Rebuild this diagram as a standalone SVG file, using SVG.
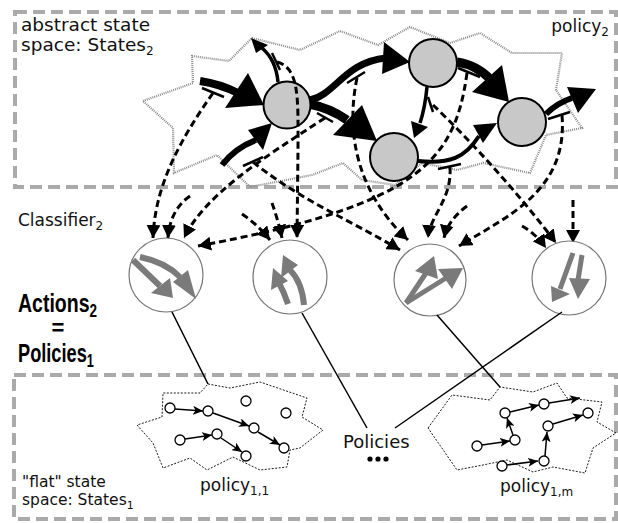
<svg xmlns="http://www.w3.org/2000/svg" width="618" height="523" viewBox="0 0 618 523">
  <defs>
    <style>
      .frame { fill: none; stroke: #aaaaaa; stroke-width: 4; stroke-dasharray: 12 6; }
      .cloud { fill: none; stroke: #8c8c8c; stroke-width: 2.2; stroke-dasharray: 1 1; }
      .cloud1 { fill: none; stroke: #000; stroke-width: 0.9; stroke-dasharray: 2 1.5; }
      .state { fill: #c8c8c8; stroke: #000; stroke-width: 2; }
      .thick { fill: none; stroke: #000; stroke-linecap: butt; }
      .head { fill: #000; stroke: none; }
      .tbar { stroke: #000; stroke-width: 2.5; fill: none; }
      .dash { fill: none; stroke: #000; stroke-width: 3; stroke-dasharray: 7 4; marker-end: url(#dh); }
      .cls { fill: #fff; stroke: #777; stroke-width: 1.2; }
      .gray { fill: none; stroke: #7a7a7a; }
      .ghead { fill: #7a7a7a; stroke: none; }
      .link { stroke: #000; stroke-width: 1.5; fill: none; }
      .s1 { fill: #fff; stroke: #000; stroke-width: 1.3; }
      .a1 { fill: none; stroke: #000; stroke-width: 1.5; marker-end: url(#sh); }
      .lbl { font-family: "DejaVu Sans", "Noto Sans", sans-serif; fill: #111; }
      .big { font-family: "Liberation Sans", Arial, sans-serif; font-weight: bold; fill: #000; }
    </style>
    <marker id="dh" markerUnits="userSpaceOnUse" markerWidth="14" markerHeight="14" refX="13" refY="7" orient="auto">
      <path d="M0,0 L13,7 L0,14 z" fill="#000"/>
    </marker>
    <marker id="sh" markerUnits="userSpaceOnUse" markerWidth="11" markerHeight="9" refX="10" refY="4.5" orient="auto">
      <path d="M0,0 L10,4.5 L0,9 L2.5,4.5 z" fill="#000"/>
    </marker>
  </defs>

  <!-- level 2: abstract state space -->
  <g id="abstract-space">
    <rect class="frame" x="15" y="12" width="601" height="175"/>
    <polygon class="cloud" points="143,101 193,83 192,56 229,61 252,38 300,50 340,31 378,45 410,27 450,43 480,33 512,53 562,53 556,90 582,128 546,135 530,173 483,163 457,170 422,163 395,185 362,180 343,163 312,175 250,187 217,155 174,173 173,128"/>
    <text class="lbl" font-size="18.5" x="21" y="31">abstract state</text>
    <text class="lbl" font-size="18.5" x="21" y="51">space: States<tspan font-size="12" dy="4">2</tspan></text>
    <text class="lbl" font-size="17" x="609" y="32" text-anchor="end">policy<tspan font-size="12" dy="4">2</tspan></text>
  </g>

  <!-- policy2 transitions -->
  <g id="policy2-arrows">
    <path class="thick" stroke-width="8" d="M200,81 Q220,84 238,93"/>
    <polygon class="head" points="225,108 248,73 264,105"/>
    <path class="thick" stroke-width="6" d="M222,165 Q235,148 256,140"/>
    <polygon class="head" points="248,130 272,123 263,150"/>
    <path class="thick" stroke-width="3.5" d="M278,82 Q276,60 262,48"/>
    <polygon class="head" points="251,38 256,53 268,45"/>
    <path class="thick" stroke-width="7" d="M310,100 C335,95 345,62 386,58"/>
    <polygon class="head" points="384,42 382,74 410,62"/>
    <path class="thick" stroke-width="9" d="M309,104 Q330,108 347,120"/>
    <polygon class="head" points="362,105 333,135 377,141"/>
    <path class="thick" stroke-width="3.5" d="M427,87 Q425,108 420,123"/>
    <polygon class="head" points="411,121 428,127 414,138"/>
    <path class="thick" stroke-width="9" d="M457,62 Q477,65 491,80"/>
    <polygon class="head" points="472,92 502,65 509,102"/>
    <path class="thick" stroke-width="4" d="M418,161 C450,164 465,158 479,136"/>
    <polygon class="head" points="473,125 483,143 497,123"/>
    <path class="thick" stroke-width="6" d="M546,114 Q557,103 572,98"/>
    <polygon class="head" points="567,87 578,113 596,89"/>
    <line class="tbar" x1="202" y1="88" x2="224" y2="97"/>
    <line class="tbar" x1="243" y1="166" x2="263" y2="157"/>
    <line class="tbar" x1="272" y1="53" x2="280" y2="70"/>
    <line class="tbar" x1="347" y1="83" x2="365" y2="72"/>
    <line class="tbar" x1="317" y1="113" x2="333" y2="122"/>
    <line class="tbar" x1="428" y1="97" x2="433" y2="112"/>
    <line class="tbar" x1="458" y1="68" x2="480" y2="77"/>
    <line class="tbar" x1="438" y1="169" x2="461" y2="164"/>
    <line class="tbar" x1="548" y1="119" x2="570" y2="112"/>
  </g>

  <!-- abstract states -->
  <g id="s2-a"><circle class="state" cx="287" cy="105" r="23.5"/></g>
  <g id="s2-b"><circle class="state" cx="433" cy="63" r="24"/></g>
  <g id="s2-c"><circle class="state" cx="394" cy="157" r="24"/></g>
  <g id="s2-d"><circle class="state" cx="522" cy="122" r="24"/></g>

  <!-- classifier mapping: transitions to actions -->
  <g id="classifier-links">
    <path class="dash" d="M213,93 C180,140 155,185 153,238"/>
    <path class="dash" d="M190,196 Q170,210 168,238"/>
    <path class="dash" d="M325,118 C260,160 205,195 184,238"/>
    <path class="dash" d="M467,73 C455,160 420,205 198,246"/>
    <path class="dash" d="M277,62 C300,68 298,100 298,150 L297,238"/>
    <path class="dash" d="M242,214 Q258,225 270,240"/>
    <path class="dash" d="M272,203 Q278,220 282,238"/>
    <path class="dash" d="M253,162 C300,200 350,220 400,250"/>
    <path class="dash" d="M357,78 C342,150 370,205 408,240"/>
    <path class="dash" d="M450,167 C452,200 430,215 428,238"/>
    <path class="dash" d="M467,206 Q448,220 444,238"/>
    <path class="dash" d="M562,115 C568,190 510,215 459,246"/>
    <path class="dash" d="M433,105 C470,140 520,195 556,243"/>
    <path class="dash" d="M522,226 Q536,234 546,248"/>
    <path class="dash" d="M573,200 L573,243"/>
  </g>

  <!-- side labels -->
  <g id="labels">
    <text class="lbl" font-size="17" x="18" y="226" fill="#222">Classifier<tspan font-size="12" dy="4">2</tspan></text>
    <text class="big" font-size="26" transform="translate(18,312) scale(0.75,1)">Actions<tspan font-size="18" dy="5">2</tspan></text>
    <text class="big" font-size="22" x="58" y="335" text-anchor="middle">=</text>
    <text class="big" font-size="26" transform="translate(18,362) scale(0.7,1)">Policies<tspan font-size="18" dy="5">1</tspan></text>
  </g>

  <!-- actions2 = policies1 -->
  <g id="action-1">
    <circle class="cls" cx="166" cy="275" r="37"/>
    <path class="gray" stroke-width="6" d="M133,260 L160,286"/>
    <polygon class="ghead" points="151,293 170,278 173,298"/>
    <path class="gray" stroke-width="6" d="M140,257 Q165,262 180,277"/>
    <polygon class="ghead" points="173,282 188,270 196,299"/>
  </g>
  <g id="action-2">
    <circle class="cls" cx="290" cy="277" r="37"/>
    <path class="gray" stroke-width="6" d="M304,305 Q302,282 290,270"/>
    <polygon class="ghead" points="281,278 298,265 283,255"/>
    <path class="gray" stroke-width="6" d="M288,304 Q284,292 279,283"/>
    <polygon class="ghead" points="271,290 288,281 273,268"/>
  </g>
  <g id="action-3">
    <circle class="cls" cx="430" cy="280" r="36"/>
    <path class="gray" stroke-width="5" d="M406,303 L426,273"/>
    <polygon class="ghead" points="415,271 434,256 438,279"/>
    <path class="gray" stroke-width="5" d="M406,303 L446,278"/>
    <polygon class="ghead" points="438,269 463,268 452,289"/>
  </g>
  <g id="action-4">
    <circle class="cls" cx="569" cy="278" r="37"/>
    <path class="gray" stroke-width="5" d="M573,253 L560,289"/>
    <polygon class="ghead" points="551,286 570,294 552,302"/>
    <path class="gray" stroke-width="5" d="M582,255 L578,280"/>
    <polygon class="ghead" points="569,278 590,279 578,299"/>
  </g>

  <!-- level 1: flat state space -->
  <g id="flat-space">
    <rect class="frame" x="14" y="375" width="602" height="144"/>
    <text class="lbl" font-size="15.5" x="22" y="487">"flat" state</text>
    <text class="lbl" font-size="15.5" x="22" y="505">space: States<tspan font-size="11" dy="4">1</tspan></text>
    <text class="lbl" font-size="18" x="343" y="448">Policies</text>
    <circle cx="370" cy="459" r="2.6" fill="#000"/>
    <circle cx="378" cy="459" r="2.6" fill="#000"/>
    <circle cx="386" cy="459" r="2.6" fill="#000"/>
  </g>

  <g id="policy-1-1">
    <polygon class="cloud1" points="208,384 230,388 260,382 307,398 302,417 323,430 300,448 290,450 287,467 260,470 233,457 207,470 190,458 163,468 153,443 137,425 162,417 163,393 200,393"/>
    <path class="a1" d="M175,409 L203,411"/>
    <path class="a1" d="M213,413 L249,426"/>
    <path class="a1" d="M258,432 L280,445"/>
    <path class="a1" d="M185,439 L212,435"/>
    <path class="a1" d="M221,438 L242,452"/>
    <circle class="s1" cx="170" cy="408" r="5"/>
    <circle class="s1" cx="208" cy="411" r="5"/>
    <circle class="s1" cx="246" cy="401" r="5"/>
    <circle class="s1" cx="286" cy="413" r="5"/>
    <circle class="s1" cx="254" cy="428" r="5"/>
    <circle class="s1" cx="180" cy="440" r="5"/>
    <circle class="s1" cx="217" cy="434" r="5"/>
    <circle class="s1" cx="246" cy="456" r="5"/>
    <circle class="s1" cx="284" cy="448" r="5"/>
    <text class="lbl" font-size="17" x="200" y="491">policy<tspan font-size="12" dy="4">1,1</tspan></text>
  </g>

  <g id="policy-1-m">
    <polygon class="cloud1" points="428,428 452,395 490,400 500,387 533,392 557,383 567,398 602,402 597,422 616,433 593,448 585,473 553,467 533,472 507,460 483,465 457,470"/>
    <path class="a1" d="M482,445 L510,441"/>
    <path class="a1" d="M513,435 L507,418"/>
    <path class="a1" d="M510,412 L539,405"/>
    <path class="a1" d="M549,403 L580,398"/>
    <path class="a1" d="M507,465 L538,461"/>
    <path class="a1" d="M545,456 L547,432"/>
    <path class="a1" d="M553,424 L583,415"/>
    <circle class="s1" cx="477" cy="446" r="5"/>
    <circle class="s1" cx="515" cy="440" r="5"/>
    <circle class="s1" cx="505" cy="413" r="5"/>
    <circle class="s1" cx="544" cy="404" r="5"/>
    <circle class="s1" cx="588" cy="413" r="5"/>
    <circle class="s1" cx="548" cy="426" r="5"/>
    <circle class="s1" cx="502" cy="466" r="5"/>
    <circle class="s1" cx="544" cy="461" r="5"/>
    <text class="lbl" font-size="17" x="500" y="492">policy<tspan font-size="12" dy="4">1,m</tspan></text>
  </g>

  <!-- actions realised as low-level policies -->
  <g id="policy-links">
    <line class="link" x1="172" y1="312" x2="208" y2="384"/>
    <line class="link" x1="302" y1="313" x2="367" y2="428"/>
    <line class="link" x1="437" y1="315" x2="500" y2="387"/>
    <line class="link" x1="562" y1="312" x2="395" y2="428"/>
  </g>
</svg>
